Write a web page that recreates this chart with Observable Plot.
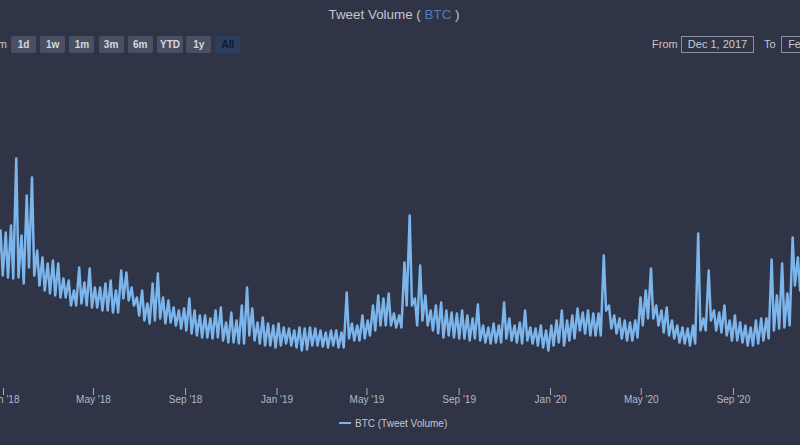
<!DOCTYPE html>
<html><head><meta charset="utf-8">
<script src="https://cdn.jsdelivr.net/npm/d3@7"></script>
<script src="https://cdn.jsdelivr.net/npm/@observablehq/plot@0.6"></script>
<style>
html,body{margin:0;padding:0;background:#2f3446;width:800px;height:445px;overflow:hidden;font-family:"Liberation Sans",Arial,sans-serif;}
#wrap{position:relative;width:800px;height:445px;overflow:hidden;}
.abs{position:absolute;white-space:nowrap;}
#title{left:0;width:788px;top:7px;text-align:center;font-size:13.4px;color:#c3c7d0;}
#title span{color:#4d7fbf;}
.btn{position:absolute;top:36px;height:17px;width:25px;background:#4a5064;color:#d5d8df;font-size:10px;font-weight:bold;text-align:center;line-height:17px;border-radius:2px;}
.btn.sel{background:#2c3e5e;color:#0f1a2c;}
.lbl{position:absolute;top:38px;font-size:11px;color:#c3c7d0;}
.inp{position:absolute;top:36px;height:15px;width:71px;border:1px solid #8a909e;color:#c9ccd4;font-size:11px;text-align:center;line-height:15px;}
#chart{position:absolute;left:0;top:62px;}
#legend{position:absolute;top:418px;left:339px;font-size:10px;color:#c3c7d0;}
#legend i{display:inline-block;width:12px;height:2px;background:#7cb5ec;vertical-align:middle;margin-right:4px;position:relative;top:-1px;}
</style></head>
<body><div id="wrap">
<div id="title" class="abs">Tweet Volume ( <span>BTC</span> )</div>
<div class="lbl" style="right:793px;">Zoom</div>
<div id="btns"></div>
<div class="lbl" style="left:652px;">From</div>
<div class="inp" style="left:681px;">Dec 1, 2017</div>
<div class="lbl" style="left:764px;">To</div>
<div class="inp" style="left:781px;">Feb 1, 2021</div>
<div id="chart"></div>
<div id="legend"><i></i>BTC (Tweet Volume)</div>
</div>
<script>
// range selector labels
const buttonLabels = ["1d","1w","1m","3m","6m","YTD","1y","All"];
// x-axis tick labels (dates)
const tickDates = ["2018-01-01","2018-05-01","2018-09-01","2019-01-01","2019-05-01","2019-09-01","2020-01-01","2020-05-01","2020-09-01"];
// weekly series: first Monday of the weekly grid
const weekStart = "2017-12-04";
// tweet volume (thousands) — mid-week highs
const weeklyHighs = [
16.3,15.3,16.0,15.8,15.6,16.3,23.0,15.3,19.3,21.1,
13.8,13.1,12.5,12.8,12.5,11.0,10.8,9.8,12.1,10.6,
12.0,10.1,10.1,10.5,10.8,9.8,11.8,11.6,10.1,9.1,
9.8,8.5,10.5,11.5,9.1,8.8,8.1,7.8,8.0,9.0,
7.8,7.3,7.3,7.0,7.8,8.1,6.6,7.6,6.8,8.3,
10.1,8.0,6.6,7.1,6.5,6.3,6.5,6.1,6.0,5.8,
6.1,6.0,6.1,6.0,5.8,5.6,5.8,5.8,5.6,9.6,
6.5,6.3,7.3,6.8,8.3,9.3,9.0,9.5,7.5,7.3,
12.6,17.3,9.0,12.3,9.3,7.8,8.3,8.6,7.8,7.6,
7.5,7.8,7.3,7.0,8.4,6.3,6.1,6.5,6.3,8.6,
7.0,6.3,6.6,7.8,6.1,6.0,6.3,5.8,6.3,6.8,
7.8,6.8,7.3,8.0,7.6,7.8,7.5,7.5,13.3,8.3,
7.3,7.0,6.8,6.6,6.8,9.1,9.8,12.0,8.3,7.8,
8.1,6.8,6.3,6.1,6.0,6.3,15.5,7.0,11.8,7.8,
7.6,8.3,6.8,7.3,6.6,6.3,6.1,6.8,7.0,7.0,
12.9,9.3,12.5,9.5,15.1,13.1,12.8];
// tweet volume (thousands) — weekend lows
const weeklyLows = [
12.3,11.8,11.6,11.3,11.1,11.0,11.1,10.5,12.1,11.3,
10.3,9.8,9.5,9.3,9.1,9.1,8.3,8.3,8.5,8.3,
8.1,8.1,7.8,7.8,7.6,7.6,9.0,8.8,8.3,7.3,
6.8,6.5,6.8,7.0,6.5,6.6,6.3,6.0,5.8,5.5,
5.3,5.1,5.1,5.0,5.1,4.8,4.6,4.6,4.5,4.5,
5.3,4.8,4.5,4.3,4.3,4.1,4.3,4.5,4.3,4.1,
3.8,3.9,4.3,4.3,4.2,4.1,4.3,4.1,4.1,5.0,
4.8,4.8,5.0,5.3,5.8,6.3,6.3,6.3,6.1,6.1,
8.3,8.3,6.3,6.8,6.3,5.8,5.5,5.1,5.3,5.1,
5.0,5.0,4.8,5.0,4.8,4.6,4.5,4.6,4.6,5.0,
4.8,4.6,4.5,4.8,4.5,4.3,4.1,3.8,4.3,4.6,
4.3,4.8,5.0,5.8,5.5,5.3,5.3,5.3,7.8,6.0,
5.5,5.0,4.8,4.8,5.1,6.3,7.0,7.0,6.3,5.6,
5.3,5.0,4.6,4.5,4.3,4.5,5.8,5.8,6.8,5.8,
5.6,5.3,4.8,4.8,4.6,4.3,4.3,4.5,4.8,5.0,
5.8,6.0,6.1,6.3,10.3,9.8,10.3];

// buttons
const btnBox = document.getElementById("btns");
buttonLabels.forEach((b, i) => {
  const d = document.createElement("div");
  d.className = "btn" + (b === "All" ? " sel" : "");
  d.style.left = (11 + i * 29.2) + "px";
  d.style.width = (b === "YTD" ? 26 : 25) + "px";
  d.textContent = b;
  btnBox.appendChild(d);
});

const start = new Date(weekStart + "T00:00:00Z");
const data = [];
weeklyHighs.forEach((h, i) => {
  data.push({date: d3.utcDay.offset(start, 7 * i + 3), value: h});
  data.push({date: d3.utcDay.offset(start, 7 * i + 6), value: weeklyLows[i]});
});

const chart = Plot.plot({
  width: 800,
  height: 346,
  marginTop: 6,
  marginBottom: 20,
  marginLeft: 0,
  marginRight: 0,
  style: {background: "transparent", fontFamily: "'Liberation Sans', Arial, sans-serif", fontSize: "10px"},
  x: {type: "utc", domain: [new Date("2017-12-28T00:00:00Z"), new Date("2020-11-29T12:00:00Z")]},
  y: {domain: [0, 32], axis: null},
  marks: [
    Plot.axisX({
      ticks: tickDates.map(d => new Date(d + "T00:00:00Z")),
      tickFormat: d3.utcFormat("%b '%y"),
      tickSize: 7,
      tickPadding: 0,
      stroke: "#aab0bd",
      fill: "#b4b9c4",
      label: null
    }),
    Plot.lineY(data, {x: "date", y: "value", stroke: "#7cb5ec", strokeWidth: 2.5, strokeLinejoin: "round", clip: true})
  ]
});
document.getElementById("chart").appendChild(chart);
</script>
</body></html>
